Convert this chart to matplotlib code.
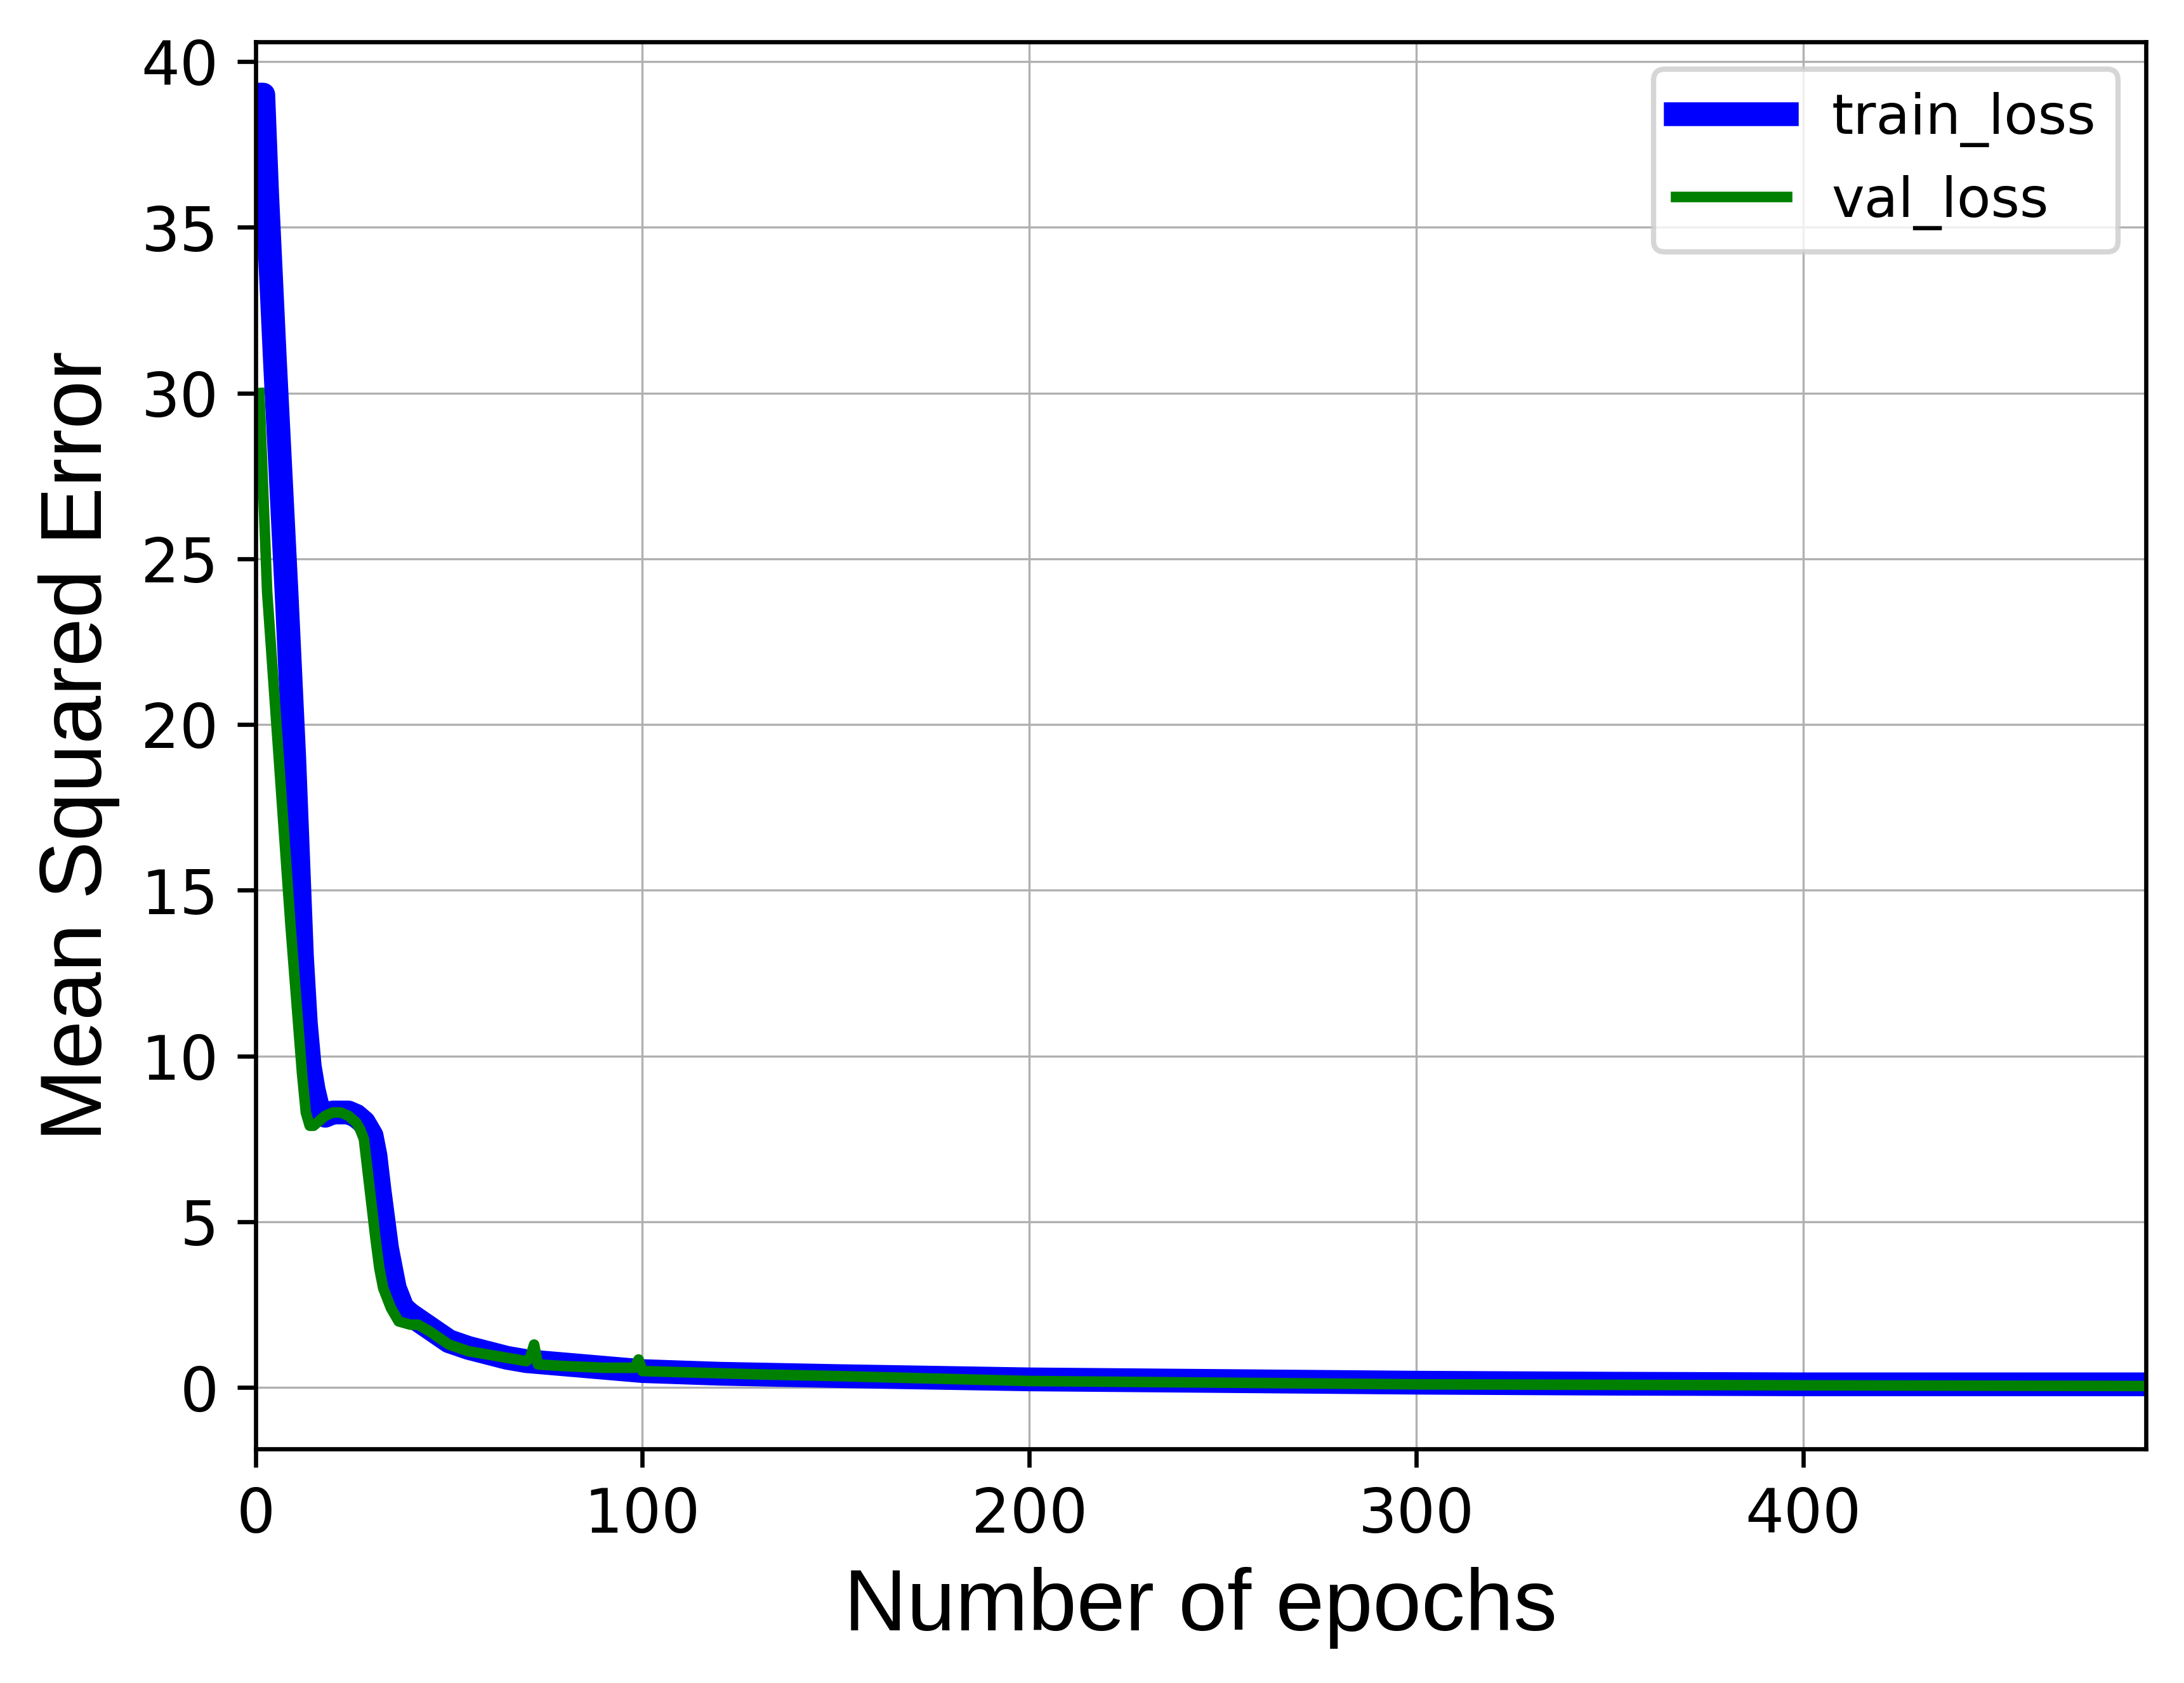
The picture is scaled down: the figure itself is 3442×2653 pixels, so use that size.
import numpy as np
import matplotlib
matplotlib.use("Agg")
import matplotlib.pyplot as plt

# Valores
train_epochs = [1, 2, 3, 5, 8, 10, 12, 13, 14, 15, 16, 18, 20, 22, 24, 26, 28, 30, 31, 32, 34, 36, 38, 40,
                45, 50, 55, 60, 65, 70, 80, 90, 100, 120, 150, 200, 250, 300, 350, 400, 450, 488]
train_loss = [39.0, 39.0, 36.0, 31.0, 24.0, 19.0, 13.0, 11.0, 9.7, 9.0, 8.5, 8.2, 8.3, 8.3, 8.3, 8.2, 8.0, 7.6,
              7.0, 6.0, 4.2, 3.0, 2.4, 2.2, 1.8, 1.4, 1.2, 1.05, 0.9, 0.8, 0.7, 0.6, 0.5, 0.42, 0.35, 0.25,
              0.2, 0.15, 0.12, 0.1, 0.1, 0.1]

val_epochs = [1, 3, 6, 9, 11, 12, 13, 14, 15, 16, 18, 20, 22, 24, 26, 27, 28, 29, 30, 31, 32, 33, 35, 37,
              40, 42, 45, 50, 55, 60, 65, 70, 71, 72, 73, 80, 90, 98, 99, 100, 130, 150, 200, 250, 300, 400, 488]
val_loss = [30.0, 24.0, 19.0, 14.0, 11.0, 9.5, 8.3, 7.9, 7.9, 8.0, 8.2, 8.3, 8.3, 8.2, 8.0, 7.8, 7.5, 6.5,
            5.5, 4.5, 3.6, 3.0, 2.4, 2.0, 1.9, 1.9, 1.7, 1.3, 1.1, 1.0, 0.9, 0.8, 0.9, 1.3, 0.7, 0.65, 0.6,
            0.6, 0.85, 0.5, 0.4, 0.35, 0.2, 0.15, 0.1, 0.07, 0.05]

fig = plt.figure(figsize=(5.737, 4.423), dpi=600)
ax = fig.add_axes([0.117, 0.139, 0.8655, 0.836])
ax.plot(train_epochs, train_loss, color='blue', linewidth=4.5, label='train_loss')
ax.plot(val_epochs, val_loss, color='green', linewidth=2.0, label='val_loss')
ax.set_xlim(0, 488.6)
ax.set_ylim(-1.85, 40.6)
ax.set_xticks([0, 100, 200, 300, 400])
ax.set_yticks(range(0, 41, 5))
ax.tick_params(labelsize=11.5)
ax.set_xlabel('Number of epochs', fontsize=16.5, family='Liberation Sans')
ax.set_ylabel('Mean Squared Error', fontsize=16.5, family='Liberation Sans')
ax.grid(linewidth=0.4)
ax.legend(loc='upper right', fontsize=10.5)
fig.savefig('out.png', dpi=600)
